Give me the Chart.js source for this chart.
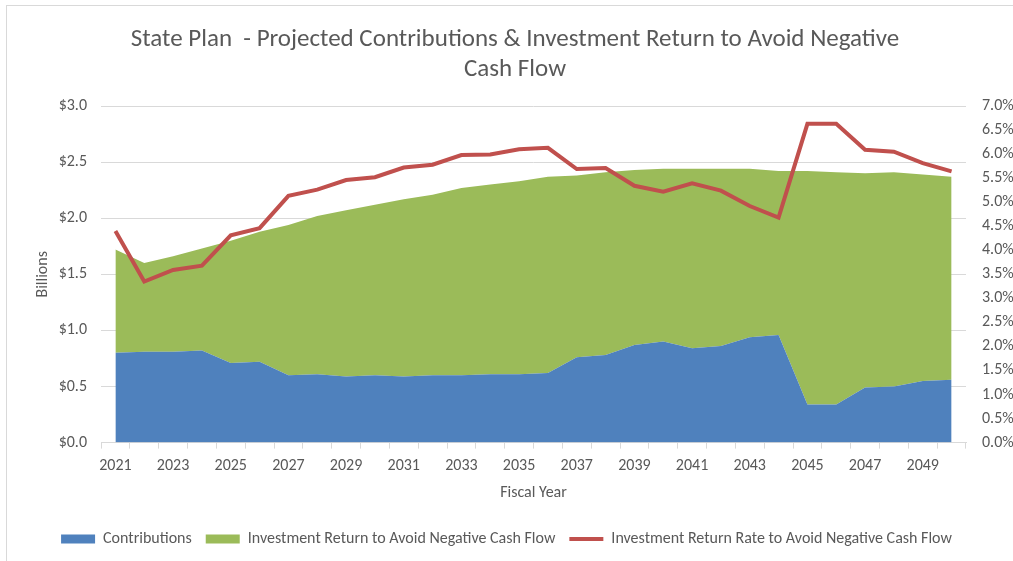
<!DOCTYPE html>
<html>
<head>
<meta charset="utf-8">
<script src="https://cdn.jsdelivr.net/npm/chart.js@4.4.1/dist/chart.umd.min.js"></script>
<style>
  html, body { margin: 0; padding: 0; background: #fff; overflow: hidden; }
  #frame { position: absolute; left: 6px; top: 5px; width: 1100px; height: 700px; border: 1px solid #d9d9d9; }
  #wrap { position: absolute; left: 0; top: 0; width: 1013px; height: 561px; }
</style>
</head>
<body>
<div id="frame"></div>
<div id="wrap"><canvas id="myChart" width="1013" height="561"></canvas></div>
<script>
const years = ['2021','2022','2023','2024','2025','2026','2027','2028','2029','2030',
  '2031','2032','2033','2034','2035','2036','2037','2038','2039','2040',
  '2041','2042','2043','2044','2045','2046','2047','2048','2049','2050'];

// billions
const contributions = [0.80, 0.81, 0.81, 0.82, 0.71, 0.72, 0.60, 0.61, 0.59, 0.60,
  0.59, 0.60, 0.60, 0.61, 0.61, 0.62, 0.76, 0.78, 0.87, 0.90,
  0.84, 0.86, 0.94, 0.96, 0.34, 0.34, 0.49, 0.50, 0.55, 0.56];

const investReturn = [0.92, 0.79, 0.85, 0.91, 1.09, 1.16, 1.34, 1.41, 1.48, 1.52,
  1.58, 1.61, 1.67, 1.69, 1.72, 1.75, 1.62, 1.63, 1.56, 1.54,
  1.60, 1.58, 1.50, 1.46, 2.08, 2.07, 1.91, 1.91, 1.84, 1.81];

// percent
const returnRate = [4.40, 3.35, 3.59, 3.68, 4.31, 4.46, 5.13, 5.26, 5.46, 5.52,
  5.72, 5.78, 5.98, 5.99, 6.10, 6.13, 5.69, 5.71, 5.34, 5.22,
  5.39, 5.24, 4.92, 4.68, 6.63, 6.63, 6.09, 6.05, 5.81, 5.64];

const textGray = '#595959';
const gridGray = '#d9d9d9';
const fontFam = "Carlito, 'Liberation Sans Narrow', 'Open Sans', sans-serif";

Chart.defaults.font.family = fontFam;
Chart.defaults.color = textGray;

const ctx = document.getElementById('myChart');
const myChart = new Chart(ctx, {
  data: {
    labels: years,
    datasets: [{
      type: 'line',
      label: 'Contributions',
      data: contributions,
      yAxisID: 'y',
      stack: 'cash',
      borderWidth: 0,
      borderColor: '#4f81bd',
      backgroundColor: '#4f81bd',
      pointRadius: 0,
      pointStyle: 'rect',
      tension: 0,
      fill: 'origin',
      order: 1
    }, {
      type: 'line',
      label: 'Investment Return to Avoid Negative Cash Flow',
      data: investReturn,
      yAxisID: 'y',
      stack: 'cash',
      borderWidth: 0,
      borderColor: '#9bbb59',
      backgroundColor: '#9bbb59',
      pointRadius: 0,
      pointStyle: 'rect',
      tension: 0,
      fill: '-1',
      order: 1
    }, {
      type: 'line',
      label: 'Investment Return Rate to Avoid Negative Cash Flow',
      data: returnRate,
      yAxisID: 'yRate',
      borderColor: '#c0504d',
      backgroundColor: '#c0504d',
      borderWidth: 4,
      pointRadius: 0,
      pointStyle: 'line',
      tension: 0,
      fill: false,
      order: 0
    }]
  },
  options: {
    responsive: false,
    animation: false,
    layout: { padding: { left: 0, right: 0, top: 0, bottom: 4 } },
    plugins: {
      title: {
        display: true,
        text: ['\u00a0\u00a0\u00a0State Plan  - Projected Contributions & Investment Return to Avoid Negative', '\u00a0\u00a0\u00a0Cash Flow'],
        color: textGray,
        font: { size: 25, weight: 'normal', lineHeight: 1.2 },
        padding: { top: 25, bottom: 21 }
      },
      legend: {
        position: 'bottom',
        labels: {
          usePointStyle: true,
          pointStyleWidth: 34,
          boxHeight: 9,
          color: textGray,
          font: { size: 16 },
          padding: 14,
          sort: (a, b) => a.datasetIndex - b.datasetIndex
        }
      },
      tooltip: { enabled: false }
    },
    scales: {
      x: {
        offset: true,
        grid: {
          offset: true,
          drawOnChartArea: false,
          color: gridGray,
          tickLength: 6
        },
        border: { color: gridGray },
        ticks: {
          autoSkip: false,
          maxRotation: 0,
          color: textGray,
          font: { size: 16 },
          padding: 8,
          callback: function (val, i) { return i % 2 === 0 ? this.getLabelForValue(val) : ''; }
        },
        title: {
          display: true,
          text: 'Fiscal Year',
          color: textGray,
          font: { size: 16 },
          padding: { top: 0, bottom: 14 }
        }
      },
      y: {
        position: 'left',
        stacked: true,
        min: 0,
        max: 3,
        grid: { color: gridGray, drawTicks: false },
        border: { display: false },
        ticks: {
          stepSize: 0.5,
          padding: 14,
          color: textGray,
          font: { size: 16 },
          callback: v => '$' + v.toFixed(1)
        },
        title: {
          display: true,
          text: 'Billions',
          color: textGray,
          font: { size: 16 },
          padding: { top: 33, bottom: 6 }
        },
        afterFit: s => { s.width = 101; }
      },
      yRate: {
        position: 'right',
        min: 0,
        max: 7,
        grid: { drawOnChartArea: false, drawTicks: false },
        border: { display: false },
        ticks: {
          stepSize: 0.5,
          padding: 16,
          color: textGray,
          font: { size: 16 },
          callback: v => v.toFixed(1) + '%'
        },
        afterFit: s => { s.width = 47; }
      }
    }
  }
});
</script>
</body>
</html>
